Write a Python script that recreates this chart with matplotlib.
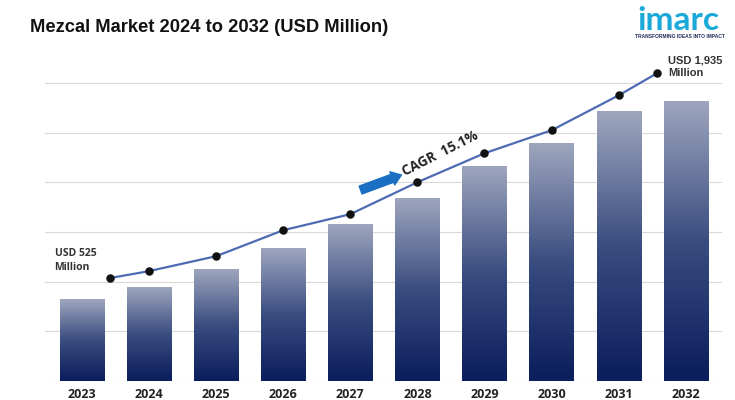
import numpy as np
import matplotlib
matplotlib.use("Agg")
import matplotlib.pyplot as plt
from matplotlib.colors import LinearSegmentedColormap

# ---- data ----
years = ["2023", "2024", "2025", "2026", "2027", "2028", "2029", "2030", "2031", "2032"]
bar_values = [495, 567, 676, 803, 948, 1105, 1298, 1437, 1630, 1690]
line_values = [622, 664, 754, 911, 1008, 1201, 1376, 1515, 1726, 1859]
grid_ticks = [0, 300, 600, 900, 1200, 1500, 1800]
start_label = "USD 525\nMillion"
end_label = "USD 1,935\nMillion"
cagr_label = "CAGR  15.1%"
title = "Mezcal Market 2024 to 2032 (USD Million)"

fig = plt.figure(figsize=(7.35, 4.0), dpi=100)
ax = fig.add_axes([45 / 735, 19 / 400, (722 - 45) / 735, 331 / 400])

x = np.arange(len(years))
bar_w = 0.66
cmap = LinearSegmentedColormap.from_list("g", ["#0a1d5c", "#3a4d80", "#9ea6be"])
bars = ax.bar(x, bar_values, width=bar_w, color="none", edgecolor="none", zorder=2)
grad = np.linspace(0, 1, 256).reshape(-1, 1)
for b in bars:
    x0, w, h = b.get_x(), b.get_width(), b.get_height()
    im = ax.imshow(grad, extent=[x0, x0 + w, 0, h], origin="lower", aspect="auto",
                   cmap=cmap, zorder=2, interpolation="bicubic")
    im.set_clip_path(b)

# line with endpoints inset like the reference
line_x = x.astype(float)
line_x[0] += 0.42
line_x[-1] -= 0.43
ax.plot(line_x, line_values, color="#4d6bb3", lw=1.6, zorder=3)
ax.scatter(line_x, line_values, s=26, color="#111111", zorder=4)

ax.set_xlim(-0.55, 9.54)
ax.set_ylim(0, 2000)
ax.set_yticks(grid_ticks)
ax.yaxis.grid(True, color="#d9d9d9", lw=0.8)
ax.set_axisbelow(True)
ax.tick_params(axis="y", left=False, labelleft=False)
ax.tick_params(axis="x", bottom=False, pad=1.5)
ax.set_xticks(x)
ax.set_xticklabels(years, fontsize=9, fontweight="bold", color="#222222", family="Open Sans")
for s in ax.spines.values():
    s.set_visible(False)

# annotations
ax.annotate(start_label, (line_x[0], line_values[0]), xytext=(-40, 4), textcoords="offset points",
            fontsize=7.5, fontweight="bold", color="#333333", family="Open Sans", va="bottom", ha="left",
            linespacing=1.3)
ax.annotate(end_label, (line_x[-1], line_values[-1]), xytext=(8, -3), textcoords="offset points",
            fontsize=8, fontweight="bold", color="#333333", family="Liberation Sans", va="bottom", ha="left",
            linespacing=1.25)

# CAGR arrow and label
fig.add_artist(matplotlib.patches.FancyArrowPatch((358, 209), (404, 226), transform=None,
               arrowstyle="simple,head_length=0.7,head_width=1.0,tail_width=0.6",
               mutation_scale=10, color="#1b6fc2", zorder=5))
fig.text(405 / 735, 1 - 176 / 400, cagr_label, rotation=27, rotation_mode="anchor",
         fontsize=9.8, fontweight="bold", color="#222222", family="Open Sans", ha="left", va="baseline")

# title
fig.text(30 / 735, 1 - 27 / 400, title, fontsize=13.2, fontweight="bold", color="#111111",
         family="Liberation Sans", ha="left", va="center")

# logo
fig.text(678 / 735, 1 - 20 / 400, "imarc", fontsize=24, fontweight="bold", color="#1aa9d8",
         family="Lato", ha="center", va="center")
fig.text(680 / 735, 1 - 36 / 400, "TRANSFORMING IDEAS INTO IMPACT", fontsize=3.5, fontweight="bold",
         color="#1d2a55", family="Liberation Sans", ha="center", va="center")

fig.savefig("out.png", dpi=100)
